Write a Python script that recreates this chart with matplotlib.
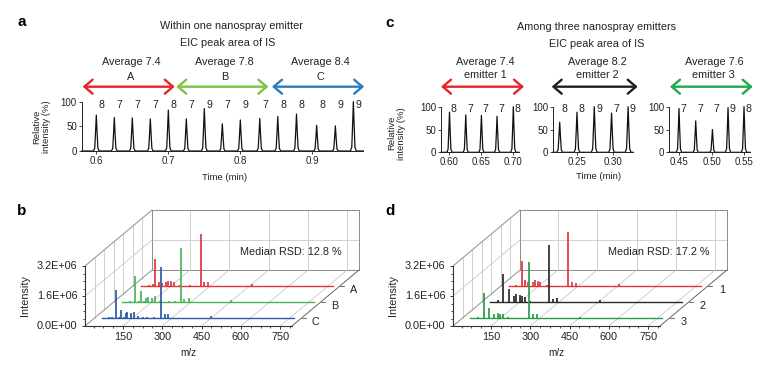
import numpy as np
import matplotlib
matplotlib.use('Agg')
import matplotlib.pyplot as plt
from matplotlib.transforms import Affine2D

plt.rcParams['font.family'] = ['Liberation Sans', 'DejaVu Sans']

# ---------------- data ----------------
# panel a : one emitter, EIC of internal standard
a_times = [0.600, 0.625, 0.650, 0.675, 0.700, 0.725, 0.750, 0.775, 0.800, 0.827,
           0.852, 0.878, 0.906, 0.932, 0.957]
a_heights = [73, 68, 67, 65, 83, 65, 86, 55, 63, 66, 70, 75, 52, 51, 100]
a_areas = ['8', '7', '7', '7', '8', '7', '9', '7', '9', '7', '8', '8', '8', '9', '9']
a_groups = ['A', 'B', 'C']
a_group_avgs = ['Average 7.4', 'Average 7.8', 'Average 8.4']
a_group_spans = [(0.581, 0.709), (0.711, 0.839), (0.844, 0.972)]
a_xticks = [0.6, 0.7, 0.8, 0.9]
a_xticklabels = ['0.6', '0.7', '0.8', '0.9']

# panel c : three emitters
c_times = [[0.600, 0.6255, 0.650, 0.6745, 0.700],
           [0.226, 0.250, 0.274, 0.298, 0.321],
           [0.450, 0.4757, 0.5014, 0.5254, 0.550]]
c_heights = [[88, 82, 81, 79, 100],
             [66, 88, 100, 86, 100],
             [96, 69, 50, 98, 100]]
c_areas = [['8', '7', '7', '7', '8'],
           ['8', '8', '9', '7', '9'],
           ['7', '7', '7', '9', '8']]
c_xlims = [(0.5867, 0.7089), (0.2167, 0.3278), (0.4346, 0.5592)]
c_xticks = [[0.60, 0.65, 0.70], [0.25, 0.30], [0.45, 0.50, 0.55]]
c_xticklabels = [['0.60', '0.65', '0.70'], ['0.25', '0.30'], ['0.45', '0.50', '0.55']]
c_avgs = ['Average 7.4', 'Average 8.2', 'Average 7.6']
c_emitters = ['emitter 1', 'emitter 2', 'emitter 3']

# panel b : mass spectra A, B, C (intensity in units of 1E+06)
b_labels = ['A', 'B', 'C']
b_mz = [[68, 80, 90, 105, 115, 133, 141, 150, 162, 185, 225, 264, 277, 290, 458],
        [66, 88, 100, 111, 120, 128, 135, 151, 162, 183, 216, 240, 261, 275, 291, 453],
        [60, 70, 86, 99, 107, 116, 124, 130, 143, 156, 172, 191, 205, 230, 259, 274, 287, 330, 450]]
b_int = [[0.05, 0.10, 1.42, 0.23, 0.15, 0.23, 0.28, 0.27, 0.20, 0.04, 0.04, 2.79, 0.23, 0.20, 0.10],
         [0.06, 1.39, 0.04, 0.57, 0.04, 0.23, 0.26, 0.23, 0.30, 0.06, 0.04, 0.03, 2.90, 0.16, 0.21, 0.09],
         [0.05, 0.03, 1.50, 0.04, 0.44, 0.05, 0.27, 0.30, 0.27, 0.34, 0.09, 0.05, 0.03, 0.03, 2.70, 0.21, 0.21, 0.02, 0.10]]
b_rsd = 'Median RSD: 12.8 %'

# panel d : mass spectra emitters 1, 2, 3
d_labels = ['1', '2', '3']
d_mz = [[64, 86, 98, 108, 126, 134, 145, 156, 180, 263, 276, 292, 457],
        [68, 87, 110, 129, 135, 150, 160, 172, 189, 262, 278, 293, 458],
        [62, 85, 106, 125, 141, 149, 161, 178, 258, 274, 288, 452]]
d_int = [[0.06, 1.35, 0.32, 0.23, 0.23, 0.32, 0.28, 0.23, 0.03, 2.90, 0.21, 0.18, 0.09],
         [0.10, 1.48, 0.69, 0.32, 0.43, 0.39, 0.32, 0.28, 0.05, 3.04, 0.14, 0.21, 0.10],
         [0.05, 1.35, 0.52, 0.21, 0.25, 0.20, 0.21, 0.05, 3.00, 0.20, 0.20, 0.07]]
d_rsd = 'Median RSD: 17.2 %'

ms_depths = [2.5, 1.5, 0.5]          # back to front
ms_depth_max = 3.5
ms_mz_range = (35, 768)
ms_xticks = [150, 300, 450, 600, 750]
ms_yticks = [0.0, 1.6, 3.2]
ms_yticklabels = ['0.0E+00', '1.6E+06', '3.2E+06']

# ---------------- style ----------------
RED = '#e3262b'
LGREEN = '#7dc243'
BLUE = '#2b7bbf'
BLACK = '#231f20'
DGREEN = '#1fa84c'
b_colors = ['#e0363a', '#4cb25a', '#2e5aa6']
d_colors = ['#e0363a', '#2a2a2a', '#2a9b48']
TXT = 7.8
TICK = 7.0
LAB = 6.8

W, H = 766, 366
fig = plt.figure(figsize=(W / 100, H / 100), dpi=100)


def px_axes(l, t, r, b):
    return fig.add_axes([l / W, 1 - b / H, (r - l) / W, (b - t) / H])


def ftext(x, y, s, **kw):
    kw.setdefault('ha', 'center')
    kw.setdefault('va', 'center')
    kw.setdefault('fontsize', TXT)
    kw.setdefault('color', '#222222')
    fig.text(x / W, 1 - y / H, s, **kw)


PROF_X = [-1.0, -0.55, -0.25, 0.0, 0.25, 0.55, 1.0]
PROF_Y = [0.0, 0.08, 0.55, 1.0, 0.55, 0.08, 0.0]


def chrom(ax, times, heights, areas, xlim, xticks, xticklabels, hw, lab_dx, lab_y):
    xs, ys = [xlim[0]], [0]
    for t, h in zip(times, heights):
        for rx, ry in zip(PROF_X, PROF_Y):
            xs.append(t + rx * hw)
            ys.append(h * ry)
    xs.append(xlim[1])
    ys.append(0)
    ax.plot(xs, ys, color='#111111', lw=0.9, clip_on=False)
    for t, s in zip(times, areas):
        ax.text(t + lab_dx, lab_y, s, ha='center', va='center', fontsize=7.6, color='#222')
    ax.set_xlim(*xlim)
    ax.set_ylim(0, 100)
    for s in ['top', 'right']:
        ax.spines[s].set_visible(False)
    for s in ['left', 'bottom']:
        ax.spines[s].set_linewidth(0.7)
        ax.spines[s].set_color('#222')
    ax.set_xticks(xticks)
    ax.set_xticklabels(xticklabels)
    ax.set_yticks([0, 50, 100])
    ax.tick_params(length=2.0, width=0.6, pad=1.5, labelsize=TICK, colors='#222')
    ax.patch.set_alpha(0)


ARROWSTYLE = '<->,head_length=0.42,head_width=0.36'


def arrow(ax, x0, x1, y, color, coords):
    ax.annotate('', xy=(x1, y), xytext=(x0, y), xycoords=coords, textcoords=coords,
                arrowprops=dict(arrowstyle=ARROWSTYLE, color=color, lw=1.7,
                                shrinkA=0, shrinkB=0, mutation_scale=14),
                annotation_clip=False)


# ---------------- panel a ----------------
axa = px_axes(81.7, 101.7, 363.3, 151)
a_xlim = (0.5797, 0.9708)
chrom(axa, a_times, a_heights, a_areas, a_xlim, a_xticks, a_xticklabels, 0.0040, 0.0075, 93)
a_cols = [RED, LGREEN, BLUE]
tr = axa.get_xaxis_transform()
for (x0, x1), g, avg, col in zip(a_group_spans, a_groups, a_group_avgs, a_cols):
    arrow(axa, x0, x1, (151 - 86.7) / 49.3, col, tr)
    xm = 0.5 * (x0 + x1) + 0.003
    axa.text(xm, (151 - 62.3) / 49.3, avg, transform=tr, ha='center', va='center', fontsize=TXT, color='#222')
    axa.text(xm, (151 - 77.3) / 49.3, g, transform=tr, ha='center', va='center', fontsize=TXT, color='#222')
ftext(231, 25.7, 'Within one nanospray emitter')
ftext(227.7, 43.3, 'EIC peak area of IS')
ftext(41.7, 126.7, 'Relative\nintensity (%)', rotation=90, fontsize=LAB, linespacing=1.0)
ftext(225, 177.3, 'Time (min)', fontsize=LAB)
ftext(21.7, 21.7, 'a', fontsize=11, fontweight='bold', color='black')

# ---------------- panel c ----------------
c_boxes = [(441, 519), (553, 633), (669, 750)]
c_arrows = [(441, 524), (551.7, 637.7), (670, 752.7)]
c_cols = [RED, BLACK, DGREEN]
for i in range(3):
    l, r = c_boxes[i]
    ax = px_axes(l, 106.7, r, 152.3)
    chrom(ax, c_times[i], c_heights[i], c_areas[i], c_xlims[i], c_xticks[i], c_xticklabels[i],
          0.0040, 0.0065, 96)
    x0, x1 = c_arrows[i]
    arrow(ax, x0, x1, H - 86.7, c_cols[i], 'figure pixels')
    xm = 0.5 * (x0 + x1) + 2.5
    ftext(xm, 62.3, c_avgs[i])
    ftext(xm, 75.3, c_emitters[i])
ftext(596.7, 26.7, 'Among three nanospray emitters')
ftext(596.7, 44, 'EIC peak area of IS')
ftext(396.7, 133.3, 'Relative\nintensity (%)', rotation=90, fontsize=LAB, linespacing=1.0)
ftext(598.3, 176.7, 'Time (min)', fontsize=LAB)
ftext(390, 23.3, 'c', fontsize=11, fontweight='bold', color='black')

# ---------------- pseudo-3D spectra panels ----------------
MZ_LO, MZ_HI = 5, 795
PX_MZ = 0.262        # pixels per m/z unit
PX_I = 18.75         # pixels per 1E+06
Y0 = 326             # pixel row of intensity 0 on the front plane
DEPTH_PX = (67, 56)  # full depth offset in pixels
YMAX = 3.2


def panel3d(front_px, mzs, ints, colors, labels, rsd, letter):
    L, R, T, B = front_px - 62, front_px + 298, 195, 366
    ax = px_axes(L, T, R, B)
    mz_at = lambda px: MZ_LO + (px - front_px) / PX_MZ
    I_at = lambda py: (Y0 - py) / PX_I
    ax.set_xlim(mz_at(L), mz_at(R))
    ax.set_ylim(I_at(B), I_at(T))
    ax.axis('off')
    DX = DEPTH_PX[0] / PX_MZ
    DY = DEPTH_PX[1] / PX_I
    td = ax.transData
    back = Affine2D().translate(DX, DY) + td
    floor = Affine2D(np.array([[1, DX, 0], [0, DY, 0], [0, 0, 1.0]])) + td
    wall = Affine2D(np.array([[DX, 0, MZ_LO], [DY, 1, 0], [0, 0, 1.0]])) + td
    grid = dict(color='#c8c8c8', lw=0.6, clip_on=False)
    edge = dict(color='#8c8c8c', lw=0.7, clip_on=False)
    axis = dict(color='#333333', lw=0.8, clip_on=False)
    # back wall
    for m in ms_xticks:
        ax.plot([m, m], [0, YMAX], transform=back, **grid)
    ax.plot([MZ_LO, MZ_HI], [1.6, 1.6], transform=back, **grid)
    ax.plot([MZ_LO, MZ_HI, MZ_HI, MZ_LO, MZ_LO], [0, 0, YMAX, YMAX, 0], transform=back, **edge)
    # floor
    for m in ms_xticks:
        ax.plot([m, m], [0, 1], transform=floor, **grid)
    # left wall
    for d in np.arange(0.5, ms_depth_max, 0.5):
        ax.plot([d / ms_depth_max] * 2, [0, YMAX], transform=wall, **grid)
    ax.plot([0, 1], [1.6, 1.6], transform=wall, **grid)
    ax.plot([0, 1], [YMAX, YMAX], transform=wall, **edge)
    ax.plot([0, 1], [0, 0], transform=wall, **edge)
    ax.plot([MZ_HI, MZ_HI], [0, 1], transform=floor, color='#666666', lw=0.7, clip_on=False)
    # spectra, back to front
    for mz, it, col, lab, d in zip(mzs, ints, colors, labels, ms_depths):
        t = d / ms_depth_max
        ts = Affine2D().translate(DX * t, DY * t) + td
        ax.plot(list(ms_mz_range), [0, 0], transform=ts, color=col, lw=1.0, clip_on=False)
        ax.vlines(mz, 0, it, transform=ts, color=col, lw=1.25, clip_on=False)
        ax.plot([MZ_HI, MZ_HI + 4 / PX_MZ], [0, 0], transform=ts, color='#555', lw=0.6, clip_on=False)
        ax.text(MZ_HI + 14 / PX_MZ, -3.8 / PX_I, lab, transform=ts, ha='center', va='center',
                fontsize=TXT, color='#222')
    # front axes
    ax.plot([MZ_LO, MZ_HI], [0, 0], **axis)
    ax.plot([MZ_LO, MZ_LO], [0, YMAX], **axis)
    tl = 3 / PX_I
    ax.vlines(ms_xticks, -tl, 0, color='#333', lw=0.7)
    minor_x = [m for m in np.arange(37.5, MZ_HI, 37.5) if m not in ms_xticks]
    ax.vlines(minor_x, -tl * 0.6, 0, color='#333', lw=0.6)
    tlx = 3 / PX_MZ
    ax.hlines(ms_yticks, MZ_LO - tlx, MZ_LO, color='#333', lw=0.7)
    minor_y = [v for v in np.arange(0.4, YMAX, 0.4) if min(abs(v - y) for y in ms_yticks) > 1e-6]
    ax.hlines(minor_y, MZ_LO - tlx * 0.6, MZ_LO, color='#333', lw=0.6)
    for m in ms_xticks:
        ax.text(m, -10.7 / PX_I, str(m), ha='center', va='center', fontsize=TXT, color='#222')
    for v, s in zip(ms_yticks, ms_yticklabels):
        ax.text(MZ_LO - 7.7 / PX_MZ, v, s, ha='right', va='center', fontsize=TXT, color='#222')
    ax.text(400, -27.3 / PX_I, 'm/z', ha='center', va='center', fontsize=TXT - 0.6, color='#222')
    ax.text(MZ_LO - 60 / PX_MZ, 1.6, 'Intensity', rotation=90, ha='center', va='center',
            fontsize=TXT, color='#222')
    ax.text(MZ_LO + 206 / PX_MZ, (Y0 - 252.3) / PX_I, rsd, ha='center', va='center',
            fontsize=TXT, color='#222')
    ax.text(MZ_LO - 63.3 / PX_MZ, (Y0 - 210.7) / PX_I, letter, ha='center', va='center',
            fontsize=11, fontweight='bold', color='black')


panel3d(85, b_mz, b_int, b_colors, b_labels, b_rsd, 'b')
panel3d(453, d_mz, d_int, d_colors, d_labels, d_rsd, 'd')

fig.savefig('out.png', dpi=100)
